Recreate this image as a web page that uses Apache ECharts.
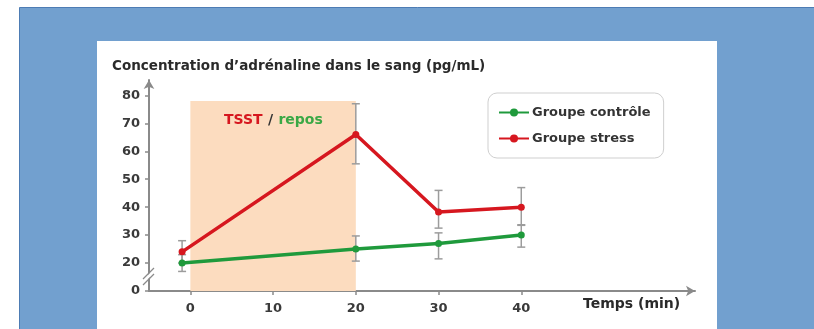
<!DOCTYPE html>
<html>
<head>
<meta charset="utf-8">
<script src="https://cdn.jsdelivr.net/npm/echarts@6/dist/echarts.min.js"></script>
<style>
html,body{margin:0;padding:0;background:#fff;}
#c{width:814px;height:329px;}
</style>
</head>
<body>
<div id="c"></div>
<script>
// ---- data ----
var times = [-1, 20, 30, 40];
var controlValues = [20, 25, 27, 30];
var controlLow = [17, 20.7, 21.5, 25.7];
var controlHigh = [23, 29.7, 30.8, 33.7];
var stressValues = [24, 66, 38.3, 40];
var stressLow = [20, 55.5, 32.5, 33.5];
var stressHigh = [28, 77, 46, 47];
var xTickLabels = [0, 10, 20, 30, 40];
var yTickLabels = [10, 20, 30, 40, 50, 60, 70, 80];
var seriesNames = ['Groupe contrôle', 'Groupe stress'];
var shadeRange = [0, 20];
var shadeTop = 78;

var FONT = '"DejaVu Sans", "Noto Sans", sans-serif';
var GREEN = '#1f9a3c';
var RED = '#d6171f';
var AXIS = '#8a8a8a';

function pts(xs, ys) { return xs.map(function (x, i) { return [x, ys[i]]; }); }
function errs(xs, lo, hi) { return xs.map(function (x, i) { return [x, lo[i], hi[i]]; }); }

function errRender(params, api) {
  var x = api.value(0), lo = api.value(1), hi = api.value(2);
  var a = api.coord([x, hi]), b = api.coord([x, lo]);
  var w = 4;
  var st = { stroke: '#9c9c9c', lineWidth: 1.5 };
  return {
    type: 'group',
    children: [
      { type: 'line', shape: { x1: a[0], y1: a[1], x2: b[0], y2: b[1] }, style: st },
      { type: 'line', shape: { x1: a[0] - w, y1: a[1], x2: a[0] + w, y2: a[1] }, style: st },
      { type: 'line', shape: { x1: b[0] - w, y1: b[1], x2: b[0] + w, y2: b[1] }, style: st }
    ]
  };
}

var chart = echarts.init(document.getElementById('c'), null, { renderer: 'canvas' });
var option = {
  animation: false,
  textStyle: { fontFamily: FONT },
  title: {
    text: 'Concentration d’adrénaline dans le sang (pg/mL)',
    left: 107, top: 54,
    textStyle: { fontFamily: FONT, fontSize: 13.5, fontWeight: 'bold', color: '#2a2a2a' }
  },
  legend: {
    data: seriesNames,
    orient: 'vertical',
    left: 488, top: 93,
    padding: [13, 13, 13, 10],
    itemGap: 13,
    itemWidth: 30, itemHeight: 10,
    borderColor: '#cfcfcf', borderWidth: 1, borderRadius: 9,
    backgroundColor: '#fff',
    textStyle: { fontFamily: FONT, fontSize: 13, fontWeight: 'bold', color: '#333', padding: [0, 0, 0, -2] }
  },
  grid: { left: 149, right: 119, top: 80, bottom: 38, containLabel: false },
  xAxis: {
    type: 'value', min: -5, max: 61,
    axisLine: { show: true, onZero: false, lineStyle: { color: AXIS, width: 2 }, symbol: ['none', 'arrow'], symbolSize: [8, 9] },
    axisTick: { show: true, customValues: xTickLabels, length: 4, lineStyle: { color: AXIS, width: 1.5 } },
    axisLabel: { customValues: xTickLabels, fontFamily: FONT, fontSize: 13, fontWeight: 'bold', color: '#3a3a3a', margin: 11 },
    splitLine: { show: false }
  },
  yAxis: {
    type: 'value', min: 10, max: 85.5, interval: 10,
    axisLine: { show: true, onZero: false, lineStyle: { color: AXIS, width: 2 }, symbol: ['none', 'arrow'], symbolSize: [8, 9] },
    axisTick: { show: true, customValues: yTickLabels, length: 4, lineStyle: { color: AXIS, width: 1.5 } },
    axisLabel: {
      customValues: yTickLabels,
      fontFamily: FONT, fontSize: 13, fontWeight: 'bold', color: '#3a3a3a', margin: 9,
      formatter: function (v) { return v === 10 ? '0' : String(v); }
    },
    splitLine: { show: false }
  },
  series: [
    {
      type: 'custom', name: 'errControl', renderItem: errRender, z: 1,
      data: errs(times, controlLow, controlHigh), encode: { x: 0, y: [1, 2] }, silent: true
    },
    {
      type: 'custom', name: 'errStress', renderItem: errRender, z: 1,
      data: errs(times, stressLow, stressHigh), encode: { x: 0, y: [1, 2] }, silent: true
    },
    {
      type: 'line', name: seriesNames[0], z: 3,
      data: pts(times, controlValues),
      symbol: 'circle', symbolSize: 7,
      lineStyle: { color: GREEN, width: 3.5 }, itemStyle: { color: GREEN },
      markArea: {
        silent: true,
        itemStyle: { color: '#fcdcbf' },
        data: [[{ xAxis: shadeRange[0], yAxis: 10 }, { xAxis: shadeRange[1], yAxis: shadeTop }]]
      }
    },
    {
      type: 'line', name: seriesNames[1], z: 4,
      data: pts(times, stressValues),
      symbol: 'circle', symbolSize: 7,
      lineStyle: { color: RED, width: 3.5 }, itemStyle: { color: RED }
    }
  ],
  graphic: [
    { type: 'rect', z: -100, silent: true, shape: { x: 19.5, y: 7.5, width: 800, height: 330 }, style: { fill: '#72a0cf', stroke: '#4d7cb4', lineWidth: 1 } },
    { type: 'rect', z: -99, silent: true, shape: { x: 97, y: 41, width: 620, height: 300 }, style: { fill: '#ffffff' } },
    {
      type: 'text', left: 224, top: 113, z: 10, silent: true,
      style: {
        text: '{r|TSST} {k|/} {g|repos}',
        rich: {
          r: { fill: RED, fontSize: 14, fontWeight: 'bold', fontFamily: FONT },
          k: { fill: '#333', fontSize: 14, fontWeight: 'bold', fontFamily: FONT, padding: [0, 2, 0, 2] },
          g: { fill: '#3aa845', fontSize: 14, fontWeight: 'bold', fontFamily: FONT }
        }
      }
    },
    {
      type: 'text', left: 583, top: 297, z: 10, silent: true,
      style: { text: 'Temps (min)', fill: '#2a2a2a', fontSize: 14, fontWeight: 'bold', fontFamily: FONT }
    }
  ]
};
chart.setOption(option);

// axis break marks on the y axis, between the "0" and "20" ticks
var p = chart.convertToPixel({ gridIndex: 0 }, [-5, 15]);
chart.setOption({
  graphic: option.graphic.concat([
    { type: 'line', z: 20, silent: true, shape: { x1: p[0] - 6, y1: p[1] + 5, x2: p[0] + 5, y2: p[1] - 6 }, style: { stroke: '#ffffff', lineWidth: 3 } },
    { type: 'line', z: 21, silent: true, shape: { x1: p[0] - 6, y1: p[1] + 2, x2: p[0] + 5, y2: p[1] - 9 }, style: { stroke: AXIS, lineWidth: 1.2 } },
    { type: 'line', z: 21, silent: true, shape: { x1: p[0] - 6, y1: p[1] + 8, x2: p[0] + 5, y2: p[1] - 3 }, style: { stroke: AXIS, lineWidth: 1.2 } }
  ])
});
</script>
</body>
</html>
